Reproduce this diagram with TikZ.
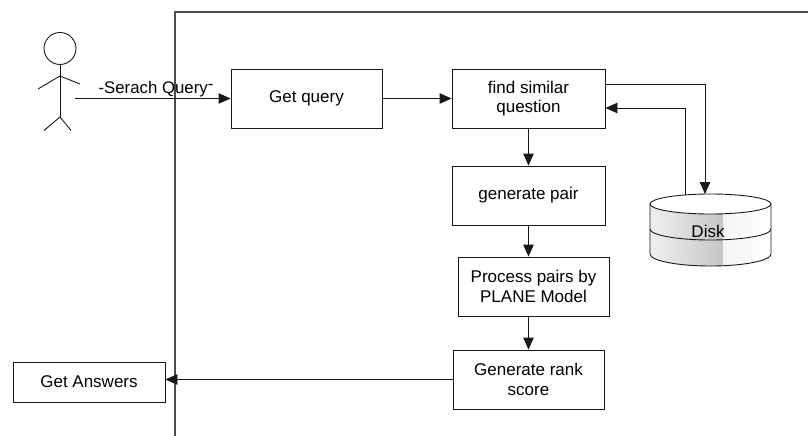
\documentclass[tikz,border=0pt]{standalone}
\usepackage{fontspec}
\setmainfont{Liberation Sans}
\usetikzlibrary{arrows.meta}
\begin{document}
\begin{tikzpicture}[x=1pt,y=-1pt,
  box/.style={draw=black!90, line width=0.9pt, align=center, inner sep=0pt,
    font=\fontsize{17}{19.5}\selectfont},
  arr/.style={draw=black!90, line width=0.9pt, -{Triangle[length=12pt,width=10.5pt]}},
  frameline/.style={draw=black!70, line width=1.3pt},
  figline/.style={draw=black!90, line width=0.9pt}]
\useasboundingbox (0,0) rectangle (808,436);
% frame
\draw[frameline] (175,436) -- (175,12) -- (808,12);
% actor
\draw[figline] (60,48.5) circle[radius=16pt];
\draw[figline] (60,64.5) -- (60,117);
\draw[figline] (38,89) -- (60,76) -- (80,84);
\draw[figline] (44,130.5) -- (60,117) -- (71,130.5);
\coordinate (actor) at (75,98.5);
% boxes
\node[box, minimum width=151pt, minimum height=59pt] (getq) at (306.5,98.5) {Get query};
\node[box, minimum width=153pt, minimum height=59pt] (finds) at (528.5,98.5) {find similar\\question};
\node[box, minimum width=153pt, minimum height=59pt] (genp) at (528.5,195.5) {generate pair};
\node[box, minimum width=151pt, minimum height=59pt] (proc) at (533.5,286.5) {Process pairs by\\PLANE Model};
\node[box, minimum width=151pt, minimum height=59pt] (genr) at (528.5,379.5) {Generate rank\\score};
\node[box, minimum width=152pt, minimum height=40pt] (ans) at (89,382) {Get Answers};
% disk
\begin{scope}
\clip (650,204) -- (650,254) arc[start angle=180,end angle=360,x radius=60.5pt,y radius=12pt] -- (771,204) -- cycle;
\shade[left color=gray!12, right color=gray!45] (649,190) rectangle (723,270);
\shade[left color=gray!8, right color=white] (723,190) rectangle (772,270);
\end{scope}
\draw[figline] (650,204) -- (650,254) arc[start angle=180,end angle=360,x radius=60.5pt,y radius=12pt] -- (771,204);
\draw[figline] (650,229) arc[start angle=180,end angle=360,x radius=60.5pt,y radius=11pt];
\draw[figline, fill=white] (710.5,204) ellipse[x radius=60.5pt, y radius=10pt];
\node[font=\fontsize{17}{19.5}\selectfont, inner sep=0pt] (disk) at (708,231) {Disk};
\coordinate (dtop) at (705,194);
\coordinate (dret) at (685,195);
% connectors
\draw[arr] (actor) -- (actor -| getq.west);
\node[font=\fontsize{16.8}{19}\selectfont, inner sep=0pt, anchor=base] (qlabel) at (156,93) {-Serach Query\raisebox{4pt}{-}};
\draw[arr] (getq) -- (finds);
\draw[arr] (finds) -- (genp);
\draw[arr] (genp.south) -- (genp.south |- proc.north);
\draw[arr] (genr.north |- proc.south) -- (genr.north);
\draw[arr] (genr.west) -- (genr.west -| ans.east);
\draw[arr] ([yshift=14.5pt]finds.east) -| (dtop);
\draw[arr] (dret) |- ([yshift=-9.5pt]finds.east);
\end{tikzpicture}
\end{document}
